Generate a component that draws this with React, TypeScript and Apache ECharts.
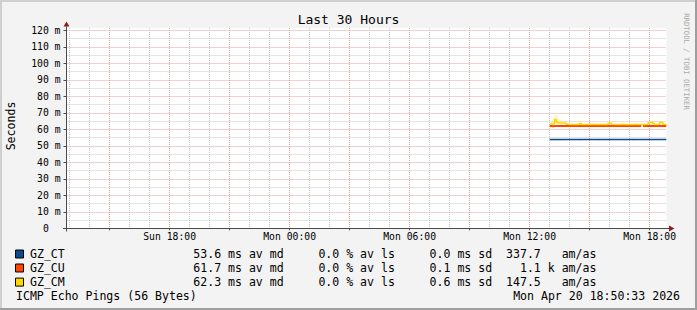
import React, { useEffect, useRef } from 'react';
import * as echarts from 'echarts';

// ---------- data ----------
const SERIES_NAMES = ['GZ_CT', 'GZ_CU', 'GZ_CM'];
const SERIES_COLORS = ['#0e4a8a', '#ff4500', '#ffd700'];
const SMOKE_COLORS = ['rgba(90,140,200,0.35)', 'rgba(255,120,60,0.3)', 'rgba(255,225,60,0.35)'];

// hours counted from Sun 00:00
const X_MIN = 12 + 50.55 / 60; // Sun 12:50:33
const X_MAX = 42 + 50.55 / 60; // Mon 18:50:33
const START_HOUR = 37; // Mon 13:00, first sample
const STEP_MIN = 5;

const CT_MEDIAN = [
  53.9, 53.9, 53.9, 53.9, 53.9, 53.9, 53.9, 53.9, 53.9, 53.9,
  53.9, 53.9, 53.9, 53.9, 53.9, 53.9, 53.9, 53.9, 53.9, 53.9,
  53.9, 53.9, 53.9, 53.9, 53.9, 53.9, 53.9, 53.9, 53.9, 53.9,
  53.9, 53.9, 53.9, 53.9, 53.9, 53.9, 53.9, 53.9, 53.9, 53.9,
  53.9, 53.9, 53.9, 53.9, 53.9, 53.9, 53.9, 53.9, 53.9, 53.9,
  53.9, 53.9, 53.9, 53.9, 53.9, 53.9, 53.9, 53.9, 53.9, 53.9,
  53.9, 53.9, 53.9, 53.9, 53.9, 53.9, 53.9, 53.9, 53.9, 53.9,
  53.9,
];
const CU_MEDIAN = [
  62.0, 62.0, 61.9, 62.0, 62.0, 62.0, 62.0, 62.0, 62.0, 62.0,
  62.0, 62.0, 62.0, 62.0, 62.0, 62.0, 62.0, 62.0, 62.0, 62.0,
  62.0, 62.0, 62.0, 62.0, 62.0, 62.0, 62.0, 62.0, 62.0, 62.0,
  62.0, 62.0, 62.0, 62.0, 62.0, 62.0, 62.0, 62.0, 62.0, 62.0,
  62.0, 62.0, 62.0, 62.0, 62.0, 62.0, 62.0, 62.0, 62.0, 62.0,
  62.0, 62.0, 62.0, 62.0, 62.0, 62.0, null, 62.0, 62.0, 62.0,
  62.0, 62.0, 62.0, 62.0, 62.0, 62.0, 62.0, 62.0, 62.0, 62.0,
  62.0,
];
const CM_MEDIAN = [
  63.1, 63.2, 63.3, 63.5, 66.0, 64.6, 63.9, 63.9, 63.8, 63.9,
  63.8, 63.1, 63.0, 63.0, 62.9, 63.0, 63.0, 63.1, 63.0, 63.7,
  63.0, 62.9, 63.0, 63.0, 63.1, 63.0, 63.0, 62.9, 63.0, 63.0,
  63.0, 63.1, 63.0, 63.0, 62.9, 63.0, 63.9, 63.8, 63.0, 63.0,
  63.0, 62.9, 63.0, 63.0, 63.1, 63.0, 63.0, 63.0, 62.9, 63.0,
  63.0, 63.0, 63.1, 63.0, 63.0, 62.9, 63.0, 63.0, 63.0, 63.1,
  64.1, 64.4, 64.3, 63.5, 63.0, 63.0, 63.1, 64.3, 64.2, 63.1,
  63.0,
];
// smoke (spread) edges
const CT_SMOKE_BASE = 53.9;
const CT_SMOKE = [
  53.9, 53.2, 53.2, 53.2, 53.2, 53.2, 53.2, 53.2, 53.2, 53.9,
  53.9, 53.9, 53.9, 53.9, 53.9, 53.9, 53.9, 53.9, 53.9, 53.3,
  53.9, 53.9, 53.9, 53.9, 53.9, 53.9, 53.9, 53.9, 53.9, 53.9,
  53.3, 53.9, 53.9, 53.9, 53.9, 53.9, 53.3, 53.3, 53.9, 53.9,
  53.9, 53.9, 53.9, 53.9, 53.9, 53.9, 53.9, 53.9, 53.9, 53.9,
  53.9, 53.3, 53.9, 53.9, 53.9, 53.9, 53.9, 53.9, 53.9, 53.9,
  53.9, 53.9, 53.3, 53.9, 53.9, 53.9, 53.9, 53.9, 53.9, 53.9,
  53.9,
];
const CM_SMOKE_BASE = 63.0;
const CM_SMOKE = [
  63.8, 64.8, 65.8, 68.3, 70.0, 68.3, 66.3, 65.8, 65.5, 65.3,
  64.9, 64.1, 63.5, 63.0, 63.0, 63.0, 63.0, 63.0, 63.0, 64.1,
  63.0, 63.0, 63.0, 63.0, 63.7, 63.7, 63.7, 63.7, 63.7, 63.0,
  63.0, 63.0, 63.0, 63.0, 63.0, 63.0, 64.5, 64.3, 63.0, 63.0,
  63.0, 63.0, 63.0, 63.0, 63.0, 63.0, 63.0, 63.0, 63.0, 63.0,
  63.0, 63.0, 63.0, 63.0, 63.0, 63.0, 63.0, 63.0, 63.0, 63.0,
  64.9, 64.9, 64.9, 64.9, 63.0, 63.0, 63.0, 64.9, 64.9, 63.0,
  63.0,
];

const X_TICK_HOURS = [18, 24, 30, 36, 42];
const X_TICK_LABELS = ['Sun 18:00', 'Mon 00:00', 'Mon 06:00', 'Mon 12:00', 'Mon 18:00'];
const Y_MAX = 121.5;

const LEGEND_STATS: [number, string][][] = [
  [[0, '53.6 ms av md'], [18, '0.0 % av ls'], [34, '0.0 ms sd'], [45, '337.7'], [53, 'am/as']],
  [[0, '61.7 ms av md'], [18, '0.0 % av ls'], [34, '0.1 ms sd'], [47, '1.1 k am/as']],
  [[0, '62.3 ms av md'], [18, '0.0 % av ls'], [34, '0.6 ms sd'], [45, '147.5'], [53, 'am/as']],
];
const TITLE = 'Last 30 Hours';
const Y_NAME = 'Seconds';
const FOOTER_LEFT = 'ICMP Echo Pings (56 Bytes)';
const FOOTER_RIGHT = 'Mon Apr 20 18:50:33 2026';
const WATERMARK = 'RRDTOOL / TOBI OETIKER';

// ---------- layout ----------
const W = 697;
const H = 310;
const GRID_LEFT = 66.5;
const GRID_TOP = 28;
const GRID_W = 600;
const GRID_H = 200.3;
const MONO = 'DejaVu Sans Mono';
const CHAR_W = 6.95;
const AXIS_COLOR = '#4a4a4a';
const ARROW_COLOR = '#8b1e1e';
const MINOR = '#c8c8c8';
const MAJOR = '#e0a0a0';

function pts(vals: (number | null)[]) {
  return vals.map((v, i) => [START_HOUR + (i * STEP_MIN) / 60, v]);
}

function buildOption() {
  const axisBottom = GRID_TOP + GRID_H;
  const graphic: any[] = [];
  // frame
  graphic.push(
    { type: 'rect', shape: { x: 0, y: 0, width: W, height: 2 }, style: { fill: '#cfcfcf' }, silent: true },
    { type: 'rect', shape: { x: 0, y: 0, width: 2, height: H }, style: { fill: '#cfcfcf' }, silent: true },
    { type: 'rect', shape: { x: 0, y: H - 2, width: W, height: 2 }, style: { fill: '#9e9e9e' }, silent: true },
    { type: 'rect', shape: { x: W - 2, y: 0, width: 2, height: H }, style: { fill: '#9e9e9e' }, silent: true },
  );
  // axes lines and arrows
  const ay = Math.round(axisBottom) + 0.5;
  graphic.push(
    { type: 'line', z: 50, shape: { x1: GRID_LEFT - 3.5, y1: ay, x2: GRID_LEFT + GRID_W + 2.5, y2: ay }, style: { stroke: AXIS_COLOR, lineWidth: 1 }, silent: true },
    { type: 'line', z: 50, shape: { x1: GRID_LEFT, y1: ay + 3, x2: GRID_LEFT, y2: GRID_TOP - 1.5 }, style: { stroke: AXIS_COLOR, lineWidth: 1 }, silent: true },
    { type: 'polygon', z: 51, shape: { points: [[GRID_LEFT - 3, GRID_TOP - 1.5], [GRID_LEFT + 3, GRID_TOP - 1.5], [GRID_LEFT, GRID_TOP - 6.5]] }, style: { fill: ARROW_COLOR }, silent: true },
    { type: 'polygon', z: 51, shape: { points: [[GRID_LEFT + GRID_W + 2.5, ay - 3], [GRID_LEFT + GRID_W + 2.5, ay + 3], [GRID_LEFT + GRID_W + 8, ay]] }, style: { fill: ARROW_COLOR }, silent: true },
  );
  // title, axis name, watermark
  graphic.push(
    { type: 'text', x: W / 2, y: 19, style: { text: TITLE, fill: '#000', fontSize: 13, fontFamily: MONO, align: 'center', verticalAlign: 'middle' }, silent: true },
    { type: 'text', x: 11, y: 126, rotation: Math.PI / 2, style: { text: Y_NAME, fill: '#000', fontSize: 11.55, fontFamily: MONO, align: 'center', verticalAlign: 'middle' }, silent: true },
    { type: 'text', x: 686, y: 61.5, rotation: -Math.PI / 2, style: { text: WATERMARK, fill: '#aaaaaa', fontSize: 7.3, fontFamily: MONO, align: 'center', verticalAlign: 'middle' }, silent: true },
  );
  // legend
  const rowY = [254.3, 268.3, 282.4];
  SERIES_NAMES.forEach((name, i) => {
    graphic.push(
      { type: 'rect', shape: { x: 15.5, y: rowY[i] - 4.3, width: 8, height: 8 }, style: { fill: SERIES_COLORS[i], stroke: '#000', lineWidth: 1 }, silent: true },
      { type: 'text', x: 30, y: rowY[i], style: { text: name, fill: '#000', fontSize: 11.55, fontFamily: MONO, align: 'left', verticalAlign: 'middle' }, silent: true },
    );
    LEGEND_STATS[i].forEach(([col, txt]) => {
      graphic.push({ type: 'text', x: 193.3 + col * CHAR_W, y: rowY[i], style: { text: txt, fill: '#000', fontSize: 11.55, fontFamily: MONO, align: 'left', verticalAlign: 'middle' }, silent: true });
    });
  });
  graphic.push(
    { type: 'text', x: 16, y: 296, style: { text: FOOTER_LEFT, fill: '#000', fontSize: 11.55, fontFamily: MONO, align: 'left', verticalAlign: 'middle' }, silent: true },
    { type: 'text', x: 680, y: 296, style: { text: FOOTER_RIGHT, fill: '#000', fontSize: 11.55, fontFamily: MONO, align: 'right', verticalAlign: 'middle' }, silent: true },
  );

  const xLabel = (v: number) => {
    const idx = X_TICK_HOURS.findIndex((h) => Math.abs(h - v) < 1e-6);
    return idx >= 0 ? X_TICK_LABELS[idx] : '';
  };
  const yLabel = (v: number) => {
    const r = Math.round(v);
    if (Math.abs(r - v) > 1e-6 || r % 10 !== 0) return '';
    return r === 0 ? '{z|0}' : `${r} m`;
  };

  const lineCommon = { type: 'line', xAxisIndex: 0, yAxisIndex: 0, step: 'start', symbol: 'none', showSymbol: false, connectNulls: false, silent: true };

  return {
    animation: false,
    backgroundColor: '#f3f3f3',
    textStyle: { fontFamily: MONO },
    grid: { left: GRID_LEFT, top: GRID_TOP, width: GRID_W, height: GRID_H, show: true, backgroundColor: '#ffffff', borderWidth: 0 },
    xAxis: [
      {
        type: 'value', min: X_MIN, max: X_MAX, splitNumber: 30, position: 'bottom',
        axisLine: { show: false }, axisTick: { show: false }, axisLabel: { show: false },
        splitLine: { show: true, showMinLine: false, showMaxLine: false, lineStyle: { color: MINOR, width: 1, type: [1, 1] } },
      },
      {
        type: 'value', min: X_MIN, max: X_MAX, splitNumber: 10, position: 'bottom',
        axisLine: { show: false },
        axisTick: { show: true, length: 2, lineStyle: { color: AXIS_COLOR } },
        axisLabel: { show: true, formatter: xLabel, color: '#000', fontSize: 9.75, fontFamily: MONO, margin: 3, showMinLabel: false, showMaxLabel: false },
        splitLine: { show: true, showMinLine: false, showMaxLine: false, lineStyle: { color: MAJOR, width: 1, type: [1, 1] } },
      },
    ],
    yAxis: [
      {
        type: 'value', min: 0, max: Y_MAX, interval: 5, position: 'left',
        axisLine: { show: false }, axisTick: { show: false }, axisLabel: { show: false },
        splitLine: { show: true, showMinLine: false, showMaxLine: false, lineStyle: { color: [MINOR, MAJOR], width: 1, type: [1, 1] } },
      },
      {
        type: 'value', min: 0, max: Y_MAX, interval: 10, position: 'left',
        axisLine: { show: false },
        axisTick: { show: true, length: 3, lineStyle: { color: AXIS_COLOR } },
        axisLabel: {
          show: true, formatter: yLabel, color: '#000', fontSize: 9.75, fontFamily: MONO, margin: 6, showMaxLabel: false,
          rich: { z: { fontSize: 9.75, fontFamily: MONO, color: '#000', padding: [0, 11.7, 0, 0] } },
        },
        splitLine: { show: false },
      },
    ],
    series: [
      { ...lineCommon, name: 'GZ_CT smoke', data: pts(CT_SMOKE), lineStyle: { opacity: 0, width: 0 }, areaStyle: { origin: CT_SMOKE_BASE, color: SMOKE_COLORS[0] }, z: 2 },
      { ...lineCommon, name: 'GZ_CM smoke', data: pts(CM_SMOKE), lineStyle: { opacity: 0, width: 0 }, areaStyle: { origin: CM_SMOKE_BASE, color: SMOKE_COLORS[2] }, z: 2 },
      { ...lineCommon, name: SERIES_NAMES[0], data: pts(CT_MEDIAN), lineStyle: { color: SERIES_COLORS[0], width: 1.5 }, z: 3 },
      { ...lineCommon, name: SERIES_NAMES[1], data: pts(CU_MEDIAN), lineStyle: { color: SERIES_COLORS[1], width: 2 }, z: 3 },
      { ...lineCommon, name: SERIES_NAMES[2], data: pts(CM_MEDIAN), lineStyle: { color: SERIES_COLORS[2], width: 1.5 }, z: 4 },
    ],
    graphic,
  };
}

export default function App() {
  const ref = useRef<HTMLDivElement>(null);
  useEffect(() => {
    document.body.style.margin = '0';
    const chart = echarts.init(ref.current!, null, { renderer: 'svg', width: W, height: H });
    chart.setOption(buildOption() as any);
    return () => chart.dispose();
  }, []);
  return <div ref={ref} style={{ width: W, height: H, position: 'absolute', left: 0, top: 0 }} />;
}
